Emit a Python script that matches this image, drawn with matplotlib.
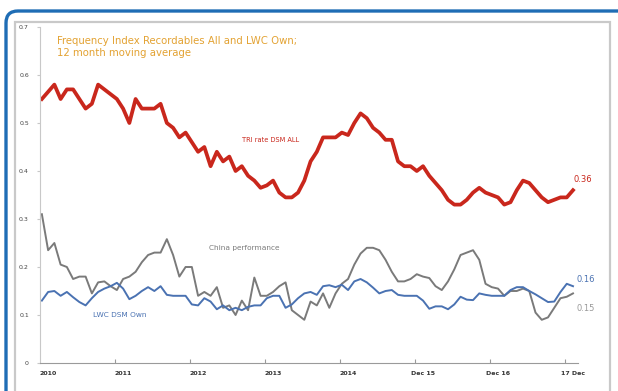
import matplotlib
matplotlib.use('Agg')
import matplotlib.pyplot as plt
from matplotlib.patches import FancyBboxPatch, Rectangle

# Monthly values, 2010 .. Dec 2017 (12 month moving average)
tri_all = [0.55, 0.565, 0.58, 0.55, 0.57, 0.57, 0.55, 0.53, 0.54, 0.58,
           0.57, 0.56, 0.55, 0.53, 0.50, 0.55, 0.53, 0.53, 0.53, 0.54,
           0.50, 0.49, 0.47, 0.48, 0.46, 0.44, 0.45, 0.41, 0.44, 0.42,
           0.43, 0.40, 0.41, 0.39, 0.38, 0.365, 0.37, 0.38, 0.355, 0.345,
           0.345, 0.355, 0.38, 0.42, 0.44, 0.47, 0.47, 0.47, 0.48, 0.475,
           0.50, 0.52, 0.51, 0.49, 0.48, 0.465, 0.465, 0.42, 0.41, 0.41,
           0.40, 0.41, 0.39, 0.375, 0.36, 0.34, 0.33, 0.33, 0.34, 0.355,
           0.365, 0.355, 0.35, 0.345, 0.33, 0.335, 0.36, 0.38, 0.375, 0.36,
           0.345, 0.335, 0.34, 0.345, 0.345, 0.36]

lwc_own = [0.13, 0.148, 0.15, 0.14, 0.148, 0.137, 0.127, 0.12, 0.135, 0.148,
           0.155, 0.16, 0.167, 0.155, 0.133, 0.14, 0.15, 0.158, 0.15, 0.16,
           0.142, 0.14, 0.14, 0.14, 0.122, 0.12, 0.135, 0.128, 0.112, 0.12,
           0.11, 0.115, 0.11, 0.117, 0.12, 0.12, 0.135, 0.14, 0.14, 0.115,
           0.122, 0.135, 0.145, 0.148, 0.142, 0.16, 0.162, 0.158, 0.163, 0.152,
           0.17, 0.175, 0.168, 0.157, 0.145, 0.15, 0.152, 0.142, 0.14, 0.14,
           0.14, 0.13, 0.113, 0.118, 0.118, 0.112, 0.122, 0.138, 0.132, 0.131,
           0.145, 0.142, 0.14, 0.14, 0.14, 0.152, 0.158, 0.158, 0.15, 0.143,
           0.135, 0.127, 0.128, 0.148, 0.165, 0.16]

china = [0.31, 0.235, 0.25, 0.205, 0.20, 0.175, 0.18, 0.18, 0.145, 0.168,
         0.17, 0.16, 0.152, 0.175, 0.18, 0.19, 0.21, 0.225, 0.23, 0.23,
         0.258, 0.225, 0.18, 0.20, 0.20, 0.14, 0.148, 0.14, 0.158, 0.115,
         0.12, 0.10, 0.13, 0.11, 0.178, 0.14, 0.14, 0.148, 0.16, 0.168,
         0.11, 0.10, 0.09, 0.128, 0.12, 0.145, 0.115, 0.145, 0.165, 0.175,
         0.205, 0.228, 0.24, 0.24, 0.235, 0.215, 0.19, 0.17, 0.17, 0.175,
         0.185, 0.18, 0.177, 0.16, 0.152, 0.17, 0.195, 0.225, 0.23, 0.235,
         0.215, 0.165, 0.158, 0.155, 0.14, 0.15, 0.15, 0.155, 0.15, 0.105,
         0.09, 0.095, 0.115, 0.135, 0.138, 0.145]

year_labels = ['2010', '2011', '2012', '2013', '2014', 'Dec 15', 'Dec 16', '17 Dec']
y_ticks = [0, 0.1, 0.2, 0.3, 0.4, 0.5, 0.6, 0.7]
y_labels = ['0', '0.1', '0.2', '0.3', '0.4', '0.5', '0.6', '0.7']

RED = '#c9271c'
BLUE = '#4a72b2'
GREY = '#7a7a7a'
ORANGE = '#e3a232'

W, H = 618, 391
fig = plt.figure(figsize=(W / 100, H / 100), dpi=100)

# Background frame drawn in pixel units
bg = fig.add_axes([0, 0, 1, 1])
bg.set_xlim(0, W)
bg.set_ylim(H, 0)
bg.axis('off')
bg.add_patch(FancyBboxPatch((6, 11), 630, 420, boxstyle='round,pad=0,rounding_size=12',
                            fc='white', ec='#1f6db5', lw=2.4))
bg.add_patch(Rectangle((15, 22), 595, 380, fc='white', ec='#c9c9c9', lw=1.6))

ax = fig.add_axes([40 / W, 28 / H, 538 / W, 336 / H])
ax.patch.set_alpha(0)
x = list(range(len(tri_all)))

ax.plot(x, china, color=GREY, lw=1.4)
ax.plot(x, lwc_own, color=BLUE, lw=1.4)
ax.plot(x, tri_all, color=RED, lw=2.7)

ax.set_xlim(-0.3, 85.8)
ax.set_ylim(0, 0.7)

for s in ['top', 'right']:
    ax.spines[s].set_visible(False)
ax.spines['left'].set_color('#c8c8c8')
ax.spines['bottom'].set_color('#9a9a9a')
ax.spines['left'].set_linewidth(0.8)
ax.spines['bottom'].set_linewidth(0.8)

ax.set_yticks(y_ticks, y_labels)
ax.tick_params(axis='y', length=2, color='#c8c8c8', labelsize=4.5, labelcolor='#444444', pad=6)

ax.set_xticks([11.75 + 12 * k for k in range(7)])
ax.set_xticklabels([])
ax.tick_params(axis='x', which='major', direction='in', length=3, color='#9a9a9a')
ax.set_xticks([1 + 12 * k for k in range(len(year_labels))], year_labels, minor=True)
ax.tick_params(axis='x', which='minor', length=0, labelsize=4.5, labelcolor='#333333', pad=6)
for lab in ax.get_xticklabels(minor=True):
    lab.set_fontweight('bold')

# Annotations
fig.text(57 / W, 1 - 36 / H, 'Frequency Index Recordables All and LWC Own;\n12 month moving average',
         color=ORANGE, fontsize=7.3, va='top', ha='left', linespacing=1.25)
ax.text(32, 0.465, 'TRI rate DSM ALL', color=RED, fontsize=4.8, ha='left', va='center')
ax.text(26.8, 0.24, 'China performance', color=GREY, fontsize=5.3, ha='left', va='center')
ax.text(8.2, 0.10, 'LWC DSM Own', color=BLUE, fontsize=5.3, ha='left', va='center')
ax.text(85, tri_all[-1] + 0.022, '0.36', color=RED, fontsize=6, ha='left', va='center')
ax.text(85.5, lwc_own[-1] + 0.015, '0.16', color=BLUE, fontsize=6, ha='left', va='center')
ax.text(85.5, china[-1] - 0.032, '0.15', color='#999999', fontsize=6, ha='left', va='center')

fig.savefig('out.png', dpi=100)
